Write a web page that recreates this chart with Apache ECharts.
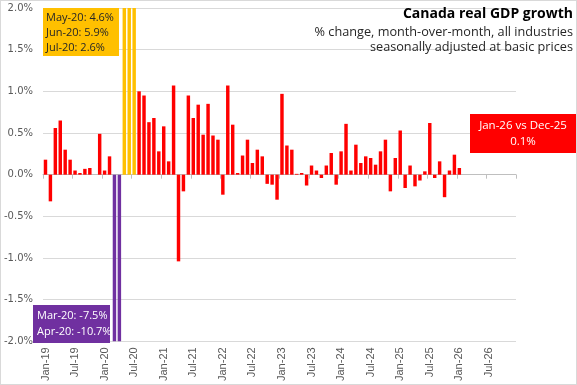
<!DOCTYPE html>
<html>
<head>
<meta charset="utf-8">
<script src="https://cdn.jsdelivr.net/npm/echarts@6/dist/echarts.min.js"></script>
<style>
html,body{margin:0;padding:0;background:#fff;}
#c{width:577px;height:385px;box-sizing:border-box;border:1px solid #d9d9d9;}
</style>
</head>
<body>
<div id="c"></div>
<script>
// ---- data ----
const monthNames = ['Jan','Feb','Mar','Apr','May','Jun','Jul','Aug','Sep','Oct','Nov','Dec'];
const years = ['19','20','21','22','23','24','25','26'];
const categories = [];
years.forEach(y => monthNames.forEach(m => categories.push(m + '-' + y)));

// monthly % change, Jan-19 .. Jan-26
const gdpGrowth = [
  0.18, -0.32, 0.56, 0.65, 0.30, 0.18, 0.05, 0.02, 0.07, 0.08, 0.00, 0.49,
  0.05, 0.22, -7.5, -10.7, 4.6, 5.9, 2.6, 1.00, 0.95, 0.63, 0.68, 0.28,
  0.58, 0.16, 1.07, -1.04, -0.20, 0.95, 0.68, 0.84, 0.48, 0.85, 0.47, 0.42,
  -0.24, 1.07, 0.60, 0.02, 0.23, 0.42, 0.14, 0.30, 0.22, -0.11, -0.12, -0.30,
  0.97, 0.35, 0.30, 0.01, 0.02, -0.13, 0.11, 0.05, -0.04, 0.11, 0.26, -0.12,
  0.28, 0.61, 0.05, 0.36, 0.14, 0.22, 0.20, 0.12, 0.28, 0.42, -0.20, 0.20,
  0.53, -0.16, 0.11, -0.14, -0.07, 0.04, 0.62, -0.04, 0.16, -0.27, 0.05, 0.24,
  0.08
];
const plungeMonths = ['Mar-20', 'Apr-20'];
const reboundMonths = ['May-20', 'Jun-20', 'Jul-20'];
const latestLabel = 'Jan-26 vs Dec-25';
const latestValueText = '0.1%';
const yTicks = { min: -2, max: 2, step: 0.5 };

// ---- styles ----
const RED = '#ff0000', PURPLE = '#7030a0', YELLOW = '#ffc000';

const fmt = v => (v).toFixed(1) + '%';
const valOf = m => gdpGrowth[categories.indexOf(m)];

const barData = gdpGrowth.map((v, i) => {
  const m = categories[i];
  let col = RED;
  if (plungeMonths.includes(m)) col = PURPLE;
  if (reboundMonths.includes(m)) col = YELLOW;
  return { value: v, itemStyle: { color: col } };
});

const reboundText = reboundMonths.map(m => m + ': ' + fmt(valOf(m))).join('\n');
const plungeText = plungeMonths.map(m => m + ': ' + fmt(valOf(m))).join('\n');

const chart = echarts.init(document.getElementById('c'), null, { renderer: 'canvas' });
const font = 'Liberation Sans';
chart.setOption({
  animation: false,
  grid: { left: 40, right: 60, top: 7, bottom: 41 },
  xAxis: [
    {
      type: 'category', data: categories, position: 'bottom',
      axisLine: { show: true, onZero: true, lineStyle: { color: '#bfbfbf', width: 1 } },
      axisTick: { show: true, interval: 5, length: 4, lineStyle: { color: '#bfbfbf' } },
      axisLabel: { show: false },
      splitLine: { show: false }
    },
    {
      type: 'category', data: categories, position: 'bottom',
      axisLine: { show: false, onZero: false },
      axisTick: { show: false },
      axisLabel: { show: true, interval: 5, rotate: 90, fontFamily: font, fontSize: 11, color: '#595959', margin: 6 },
      splitLine: { show: false }
    }
  ],
  yAxis: {
    type: 'value', min: yTicks.min, max: yTicks.max, interval: yTicks.step,
    axisLine: { show: false }, axisTick: { show: false },
    axisLabel: { formatter: fmt, fontFamily: 'DejaVu Sans', fontSize: 10, color: '#595959', margin: 10 },
    splitLine: { lineStyle: { color: '#d9d9d9', width: 1 } }
  },
  series: [{
    type: 'bar', data: barData, xAxisIndex: 0, barCategoryGap: '30%', clip: true
  }],
  graphic: { elements: [
    { type: 'text', z: 100, x: 572, y: 6, style: { text: 'Canada real GDP growth', font: 'bold 14px "Open Sans"', fill: '#000', textAlign: 'right', textVerticalAlign: 'top' } },
    { type: 'text', z: 100, x: 572, y: 25, style: { text: '% change, month-over-month, all industries', font: '12.7px "Open Sans"', fill: '#262626', textAlign: 'right', textVerticalAlign: 'top' } },
    { type: 'text', z: 100, x: 572, y: 40, style: { text: 'seasonally adjusted at basic prices', font: '12.7px "Open Sans"', fill: '#262626', textAlign: 'right', textVerticalAlign: 'top' } },
    { type: 'rect', z: 100, shape: { x: 42, y: 7, width: 76, height: 48 }, style: { fill: YELLOW } },
    { type: 'text', z: 101, x: 45, y: 9, style: { text: reboundText, font: '11px "Open Sans"', fill: '#262626', lineHeight: 15, textVerticalAlign: 'top' } },
    { type: 'rect', z: 100, shape: { x: 32, y: 304, width: 77, height: 38 }, style: { fill: PURPLE } },
    { type: 'text', z: 101, x: 36, y: 307, style: { text: plungeText, font: '11px "Open Sans"', fill: '#ffffff', lineHeight: 16, textVerticalAlign: 'top' } },
    { type: 'rect', z: 100, shape: { x: 469, y: 113, width: 107, height: 39 }, style: { fill: RED } },
    { type: 'text', z: 101, x: 522, y: 117, style: { text: latestLabel + '\n' + latestValueText, font: '11.5px "Open Sans"', fill: '#ffffff', lineHeight: 16, textAlign: 'center', textVerticalAlign: 'top' } }
  ]}
});
</script>
</body>
</html>
